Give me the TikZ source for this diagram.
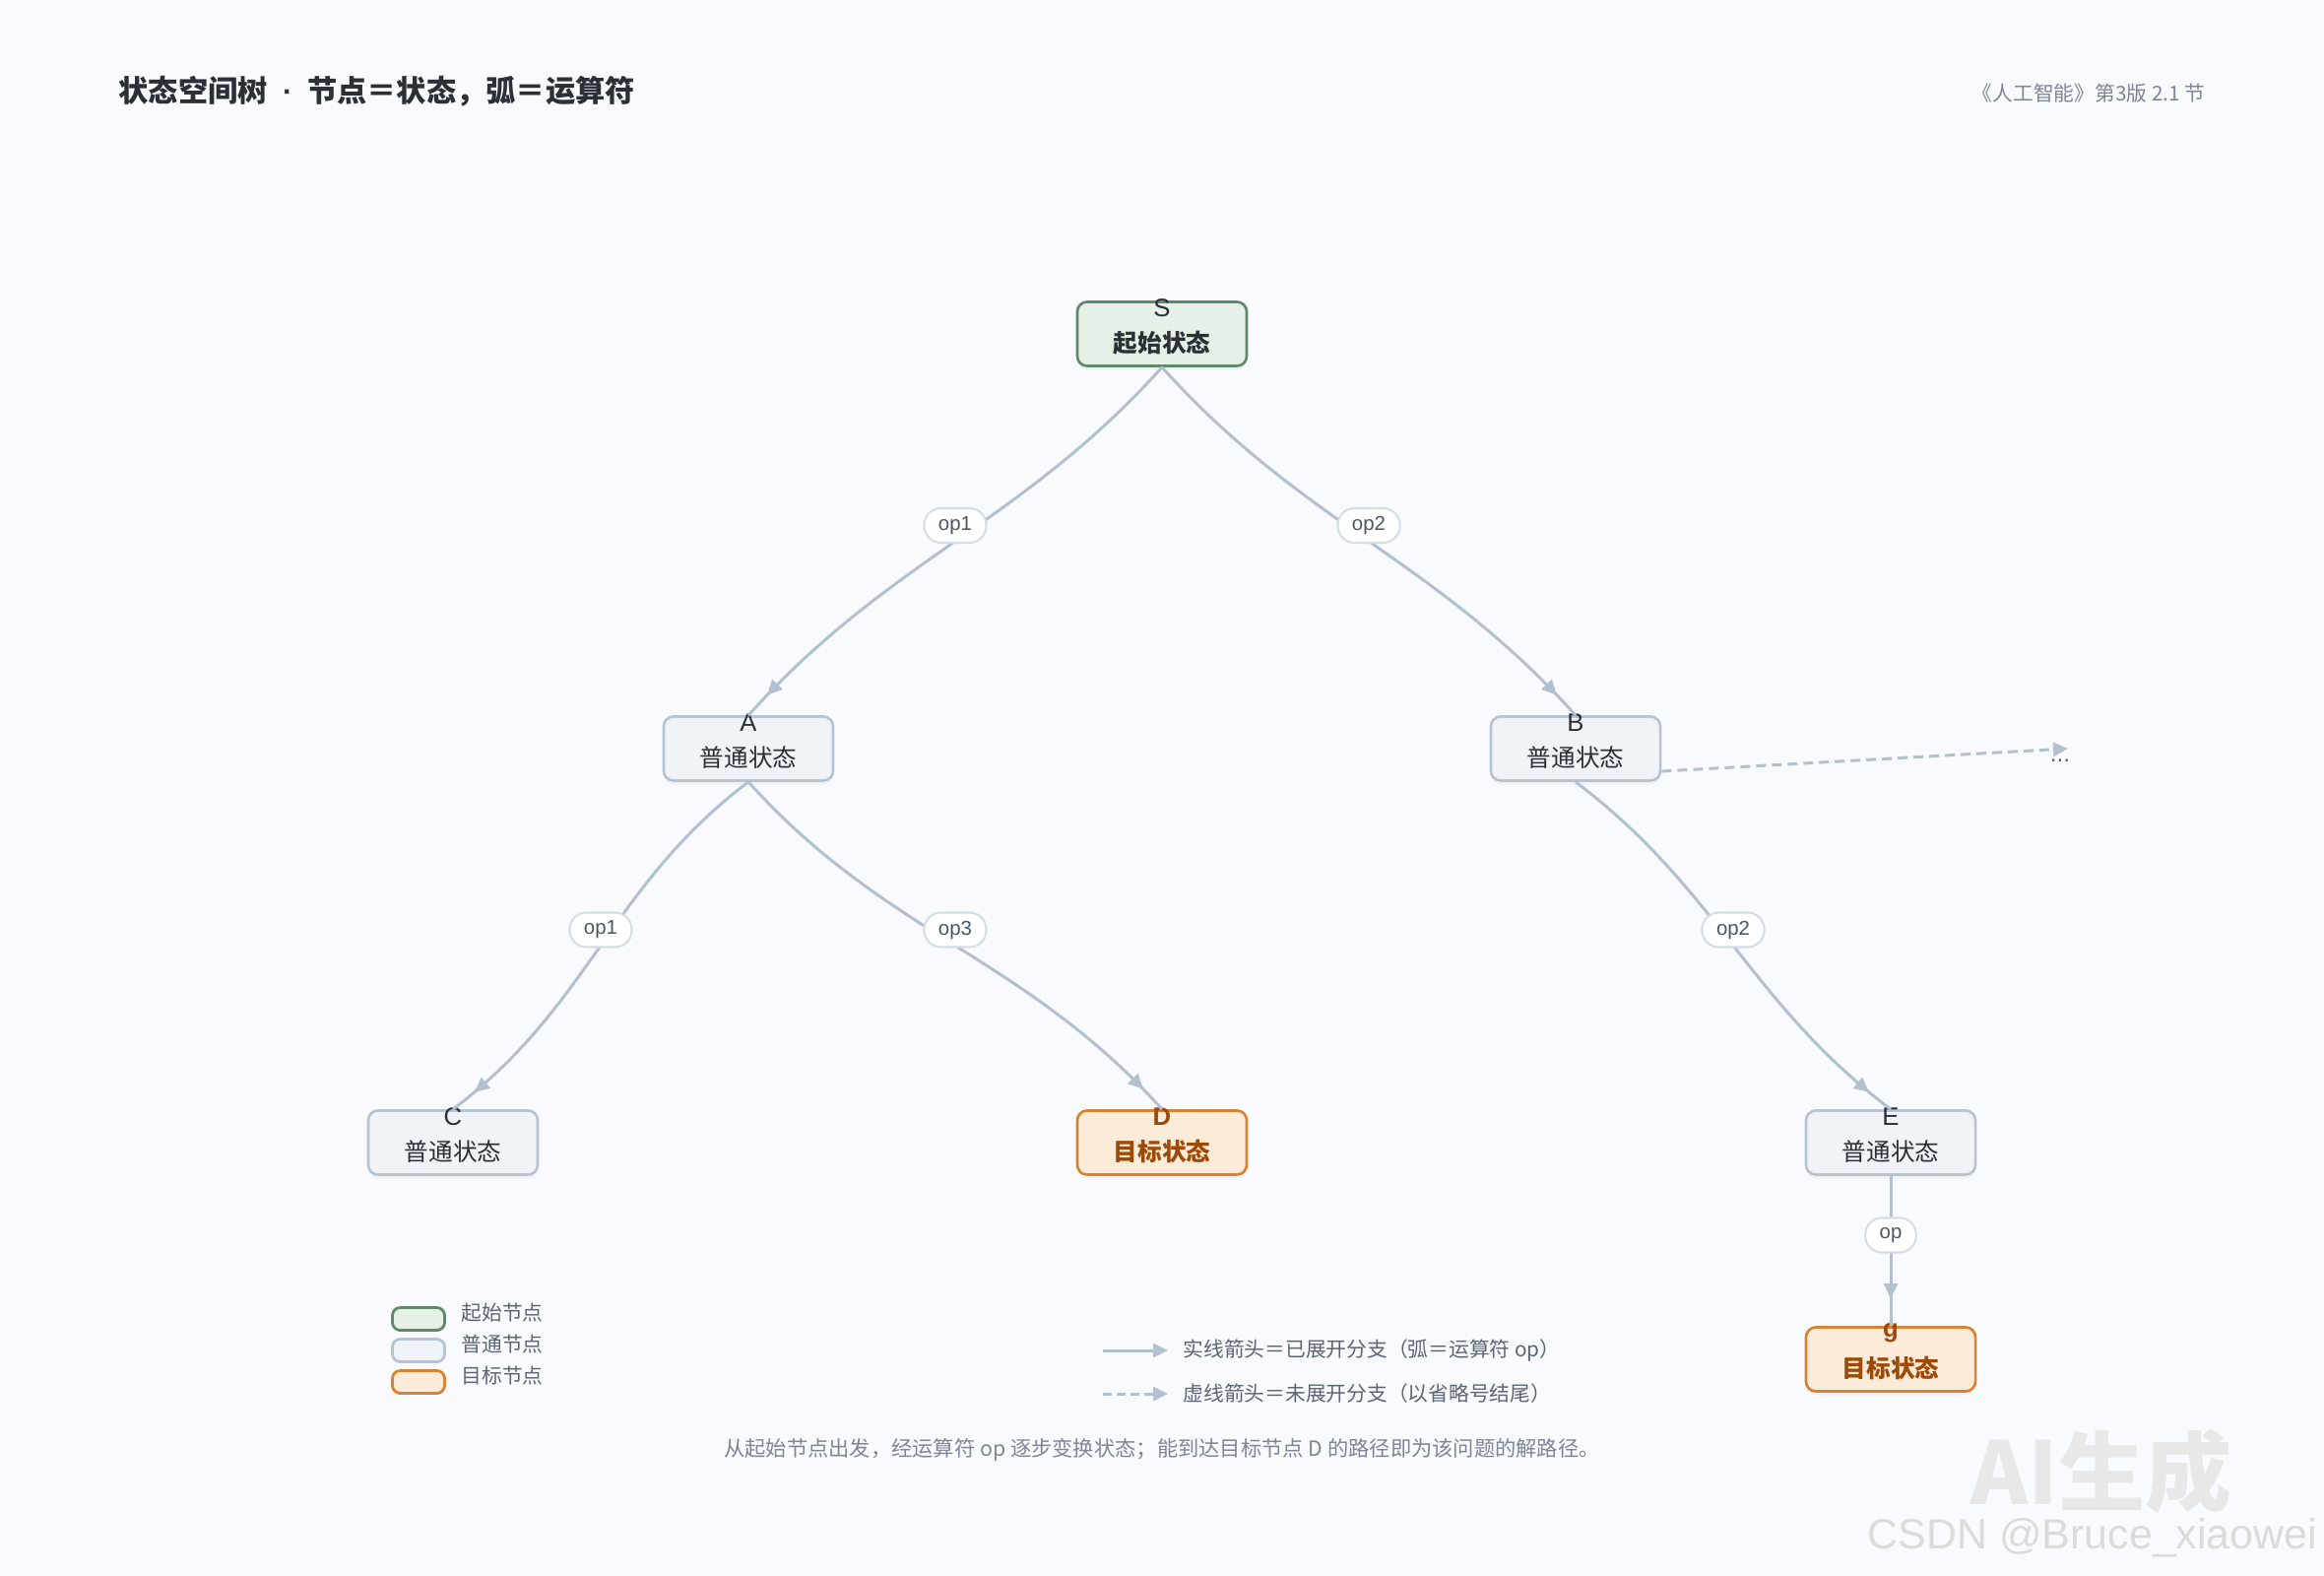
\documentclass[tikz,border=0pt]{standalone}
\usepackage{fontspec}
\setmainfont{Noto Sans CJK SC}
\newfontfamily\latinfont{Liberation Sans}
\usetikzlibrary{arrows.meta,positioning,decorations.markings,shadows}

\definecolor{bgcol}{HTML}{F8FAFD}
\definecolor{startfill}{HTML}{E6F0E7}
\definecolor{startdraw}{HTML}{5F8A69}
\definecolor{plainfill}{HTML}{F0F4F9}
\definecolor{plaindraw}{HTML}{B5C3D3}
\definecolor{goalfill}{HTML}{FDEBDA}
\definecolor{goaldraw}{HTML}{D98332}
\definecolor{goaltext}{HTML}{9C4A06}
\definecolor{edgecol}{HTML}{B3C0D0}
\definecolor{labeldraw}{HTML}{D5DDE8}
\definecolor{labeltext}{HTML}{4B5563}
\definecolor{titlecol}{HTML}{2B2F36}
\definecolor{greytext}{HTML}{7C8696}
\definecolor{legendtext}{HTML}{5B6574}

\tikzset{
  statebox/.style={rectangle, rounded corners=0.1cm, line width=0.75pt,
    minimum width=1.72cm, minimum height=0.65cm, inner ysep=0pt,
    text height=0.42cm, text depth=0.05cm,
    drop shadow={opacity=0.07, shadow xshift=0cm, shadow yshift=-0.04cm}},
  startstate/.style={statebox, draw=startdraw, fill=startfill, text=titlecol,
    font=\fontsize{7}{8}\selectfont\bfseries},
  plainstate/.style={statebox, draw=plaindraw, fill=plainfill, text=titlecol,
    font=\fontsize{7}{8}\selectfont},
  goalstate/.style={statebox, draw=goaldraw, fill=goalfill, text=goaltext,
    font=\fontsize{7}{8}\selectfont\bfseries},
  letter/.style={anchor=center, yshift=-0.07cm, inner sep=0pt, text=titlecol,
    font=\latinfont\fontsize{7.3}{8}\selectfont},
  goalletter/.style={letter, text=goaltext, font=\latinfont\fontsize{7.3}{8}\selectfont\bfseries},
  oplabel/.style={rectangle, rounded corners=0.17cm, draw=labeldraw, line width=0.6pt,
    fill=white, text=labeltext, inner xsep=0.145cm, inner ysep=0pt,
    minimum height=0.35cm, pos=0.5, yshift=0.16cm,
    font=\latinfont\fontsize{5.8}{6}\selectfont},
  opedge/.style={draw=edgecol, line width=0.85pt, postaction={decorate},
    decoration={markings, mark=at position -0.28cm with
      {\arrow[edgecol]{Triangle[length=0.15cm, width=0.14cm]}}}},
  legendbox/.style={rectangle, rounded corners=0.08cm, line width=0.8pt,
    minimum width=0.53cm, minimum height=0.23cm, inner sep=0pt},
  legendtext/.style={text=legendtext, inner sep=0.03cm, font=\fontsize{5.9}{7}\selectfont},
  greynote/.style={text=greytext, inner sep=0pt, font=\fontsize{5.9}{7}\selectfont},
}

\begin{document}
\begin{tikzpicture}[x=0.01cm, y=0.01cm]
    % canvas
    \fill[bgcol] (0,0) rectangle (2360,-1600);
    \useasboundingbox (0,0) rectangle (2360,-1600);

    % header
    \node[anchor=west, inner sep=0pt, text=titlecol, font=\fontsize{8.6}{10}\selectfont\bfseries]
        (title) at (120,-93) {状态空间树\hspace{0.5em}{\latinfont\bfseries ·}\hspace{0.5em}节点＝状态，弧＝运算符};
    \node[greynote, anchor=east] (bookref) at (2240,-95) {《人工智能》第3版 2.1 节};

    % states
    \node[startstate, label={[letter]north:S}] (S) at (1180,-339) {起始状态};
    \node[plainstate, label={[letter]north:A}] (A) at (760,-760) {普通状态};
    \node[plainstate, label={[letter]north:B}] (B) at (1600,-760) {普通状态};
    \node[plainstate, label={[letter]north:C}] (C) at (460,-1160) {普通状态};
    \node[goalstate, label={[goalletter]north:D}] (D) at (1180,-1160) {目标状态};
    \node[plainstate, label={[letter]north:E}] (E) at (1920,-1160) {普通状态};
    \node[goalstate, label={[goalletter]north:g}] (g) at (1920,-1380) {目标状态};

    % operators
    \draw[opedge] (S.south) to[out=-132, in=48] node[oplabel] (opSA) {op1} (A.north);
    \draw[opedge] (S.south) to[out=-48, in=132] node[oplabel] (opSB) {op2} (B.north);
    \draw[opedge] (A.south) to[out=-143, in=37] node[oplabel] (opAC) {op1} (C.north);
    \draw[opedge] (A.south) to[out=-48, in=132] node[oplabel] (opAD) {op3} (D.north);
    \draw[opedge] (B.south) to[out=-37, in=143] node[oplabel] (opBE) {op2} (E.north);
    \draw[opedge] (E.south) -- node[oplabel] (opEg) {op} (g.north);

    % unexpanded branch
    \node[text=legendtext, inner sep=0pt, font=\latinfont\fontsize{7}{7}\selectfont] (more) at (2092,-772) {...};
    \coordinate (moreend) at (2100,-760);
    \draw[draw=edgecol, line width=0.85pt, dash pattern=on 0.1cm off 0.06cm,
        -{Triangle[length=0.15cm, width=0.14cm]}] ([yshift=-0.23cm]B.east) -- (moreend);

    % legend: node kinds
    \node[legendbox, draw=startdraw, fill=startfill] (lgS) at (425,-1339) {};
    \node[legendbox, draw=plaindraw, fill=plainfill] (lgP) at (425,-1371) {};
    \node[legendbox, draw=goaldraw, fill=goalfill] (lgG) at (425,-1403) {};
    \node[legendtext, anchor=west] (lgStxt) at (465,-1333) {起始节点};
    \node[legendtext, anchor=west] (lgPtxt) at (465,-1365) {普通节点};
    \node[legendtext, anchor=west] (lgGtxt) at (465,-1397) {目标节点};

    % legend: arrows
    \coordinate (solidfrom) at (1120,-1371);
    \coordinate (solidto) at (1186,-1371);
    \coordinate (dashfrom) at (1120,-1415);
    \coordinate (dashto) at (1186,-1415);
    \draw[draw=edgecol, line width=0.85pt, -{Triangle[length=0.15cm, width=0.14cm]}] (solidfrom) -- (solidto);
    \draw[draw=edgecol, line width=0.85pt, dash pattern=on 0.09cm off 0.05cm,
        -{Triangle[length=0.15cm, width=0.14cm]}] (dashfrom) -- (dashto);
    \node[legendtext, anchor=west] (solidtxt) at (1198,-1371) {实线箭头＝已展开分支（弧＝运算符 op）};
    \node[legendtext, anchor=west] (dashtxt) at (1198,-1415) {虚线箭头＝未展开分支（以省略号结尾）};

    % footnote
    \node[greynote, font=\fontsize{6.05}{7}\selectfont] (note) at (1180,-1472) {从起始节点出发，经运算符 op 逐步变换状态；能到达目标节点 D 的路径即为该问题的解路径。};

    % watermark
    \node[text=black!9, inner sep=0pt, font=\fontsize{25}{26}\selectfont\bfseries] (wmai) at (2134,-1494) {AI生成};
    \node[text=black!14, inner sep=0pt, font=\latinfont\fontsize{12.2}{13}\selectfont] (wmcsdn) at (2125,-1561) {CSDN @Bruce\_xiaowei};
\end{tikzpicture}
\end{document}
